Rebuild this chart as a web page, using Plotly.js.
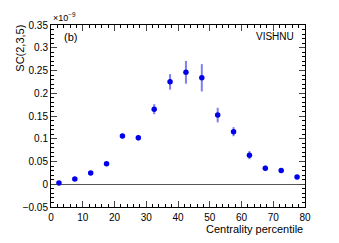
<!DOCTYPE html>
<html><head><meta charset="utf-8">
<script src="https://cdn.plot.ly/plotly-3.0.1.min.js"></script>
<style>html,body{margin:0;padding:0;background:#fff}#c{width:339px;height:243px}</style>
</head><body><div id="c"></div>
<script>
const centrality = [2.5,7.5,12.5,17.5,22.5,27.5,32.5,37.5,42.5,47.5,52.5,57.5,62.5,67.5,72.5,77.5];
const sc235 = [0.003,0.0115,0.025,0.045,0.106,0.102,0.165,0.225,0.246,0.234,0.152,0.1155,0.064,0.035,0.030,0.016];
const sc235Err = [0.002,0.002,0.002,0.003,0.005,0.006,0.011,0.017,0.025,0.03,0.016,0.01,0.009,0.006,0.003,0.002];
const xTicks = [0,10,20,30,40,50,60,70,80];
const yTicks = [-0.05,0,0.05,0.1,0.15,0.2,0.25,0.3,0.35];
const yTickText = ['\u22120.05','0','0.05','0.1','0.15','0.2','0.25','0.3','0.35'];

const font = 'Liberation Sans, Arial, sans-serif';
const trace = {
  x: centrality, y: sc235, type: 'scatter', mode: 'markers',
  marker: {color: 'rgb(0,0,235)', size: 5.5},
  error_y: {type: 'data', array: sc235Err, visible: true, color: 'rgba(40,40,230,0.6)', thickness: 2, width: 0},
  showlegend: false
};
const mirrorTrace = {x: [0], y: [0], xaxis: 'x2', yaxis: 'y2', mode: 'markers', marker: {opacity: 0}, showlegend: false, hoverinfo: 'skip'};
const axCommon = {ticks: 'inside', ticklen: 6, tickwidth: 1, showline: true, linecolor: '#000', linewidth: 1, showgrid: false, zeroline: false};
const layout = {
  width: 339, height: 243,
  margin: {l: 51, r: 34, t: 25, b: 36},
  paper_bgcolor: '#fff', plot_bgcolor: '#fff',
  font: {family: font, size: 10, color: '#000'},
  xaxis: Object.assign({}, axCommon, {
    range: [0, 80], tickvals: xTicks, tickfont: {size: 10, family: font}, ticklabelstandoff: 1,
    minor: {dtick: 2, ticklen: 3, ticks: 'inside', tickcolor: '#000', showgrid: false}
  }),
  yaxis: Object.assign({}, axCommon, {
    range: [-0.05, 0.35], tickvals: yTicks, ticktext: yTickText,
    zeroline: true, zerolinecolor: '#555', zerolinewidth: 1.5,
    tickfont: {size: 10, family: font},
    minor: {dtick: 0.01, ticklen: 3, ticks: 'inside', tickcolor: '#000', showgrid: false}
  }),
  xaxis2: Object.assign({}, axCommon, {
    overlaying: 'x', side: 'top', range: [0, 80], tickvals: xTicks, showticklabels: false,
    minor: {dtick: 2, ticklen: 3, ticks: 'inside', tickcolor: '#000', showgrid: false}
  }),
  yaxis2: Object.assign({}, axCommon, {
    overlaying: 'y', side: 'right', range: [-0.05, 0.35], tickvals: yTicks, showticklabels: false,
    minor: {dtick: 0.01, ticklen: 3, ticks: 'inside', tickcolor: '#000', showgrid: false}
  }),
  annotations: [
    {text: 'Centrality percentile', xref: 'paper', yref: 'paper', x: 1, y: -0.122, xanchor: 'right', yanchor: 'middle', showarrow: false, font: {size: 11, family: font}},
    {text: 'SC(2,3,5)', xref: 'paper', yref: 'paper', x: -0.122, y: 1.01, xanchor: 'center', yanchor: 'top', textangle: -90, showarrow: false, font: {size: 11, family: font}},
    {text: '\u00d710<sup>\u22129</sup>', xref: 'paper', yref: 'paper', x: 0.0, y: 1.0, xanchor: 'left', yanchor: 'bottom', showarrow: false, font: {size: 9, family: font}},
    {text: '(b)', xref: 'paper', yref: 'paper', x: 0.045, y: 0.935, xanchor: 'left', yanchor: 'middle', showarrow: false, font: {size: 11, family: font}},
    {text: 'VISHNU', xref: 'paper', yref: 'paper', x: 0.965, y: 0.935, xanchor: 'right', yanchor: 'middle', showarrow: false, font: {size: 10, family: font}}
  ]
};
Plotly.newPlot('c', [trace, mirrorTrace], layout, {displayModeBar: false, staticPlot: true});
</script></body></html>
